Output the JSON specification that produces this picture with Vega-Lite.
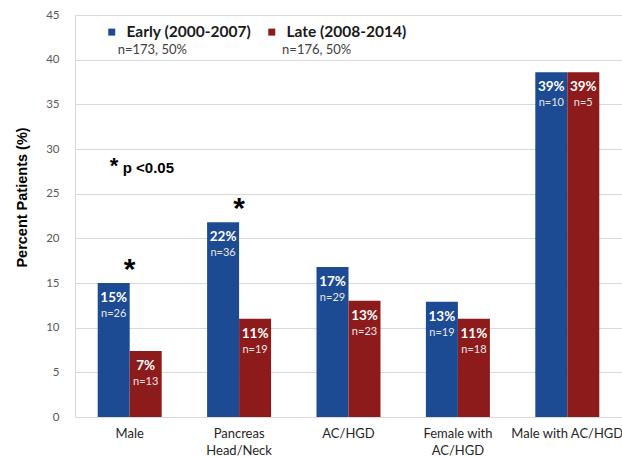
{
  "$schema": "https://vega.github.io/schema/vega-lite/v6.json",
  "width": 547,
  "height": 402,
  "autosize": "none",
  "padding": {"left": 75, "top": 15, "right": 0, "bottom": 40},
  "background": "white",
  "config": {"view": {"stroke": null}, "font": "Lato"},
  "datasets": {
    "bars": [
      {"cat": "Male", "period": "Early (2000-2007)", "value": 15.0, "pct": "15%", "n": "n=26", "sig": "*"},
      {"cat": "Male", "period": "Late (2008-2014)", "value": 7.4, "pct": "7%", "n": "n=13", "sig": ""},
      {"cat": "Pancreas Head/Neck", "period": "Early (2000-2007)", "value": 21.8, "pct": "22%", "n": "n=36", "sig": "*"},
      {"cat": "Pancreas Head/Neck", "period": "Late (2008-2014)", "value": 11.0, "pct": "11%", "n": "n=19", "sig": ""},
      {"cat": "AC/HGD", "period": "Early (2000-2007)", "value": 16.8, "pct": "17%", "n": "n=29", "sig": ""},
      {"cat": "AC/HGD", "period": "Late (2008-2014)", "value": 13.0, "pct": "13%", "n": "n=23", "sig": ""},
      {"cat": "Female with AC/HGD", "period": "Early (2000-2007)", "value": 12.9, "pct": "13%", "n": "n=19", "sig": ""},
      {"cat": "Female with AC/HGD", "period": "Late (2008-2014)", "value": 11.0, "pct": "11%", "n": "n=18", "sig": ""},
      {"cat": "Male with AC/HGD", "period": "Early (2000-2007)", "value": 38.6, "pct": "39%", "n": "n=10", "sig": ""},
      {"cat": "Male with AC/HGD", "period": "Late (2008-2014)", "value": 38.6, "pct": "39%", "n": "n=5", "sig": ""}
    ],
    "pnote": [{"cat": "Male", "star": "*", "t": "p <0.05"}],
    "legsub": [
      {"cat": "Male", "period": "Early (2000-2007)", "t": "n=173, 50%"},
      {"cat": "Pancreas Head/Neck", "period": "Late (2008-2014)", "t": "n=176, 50%"}
    ]
  },
  "layer": [
    {
      "data": {"name": "bars"},
      "mark": {"type": "bar"},
      "encoding": {
        "x": {
          "field": "cat",
          "type": "nominal",
          "sort": ["Male", "Pancreas Head/Neck", "AC/HGD", "Female with AC/HGD", "Male with AC/HGD"],
          "scale": {"paddingInner": 0.415, "paddingOuter": 0.2075},
          "axis": {
            "title": null,
            "labelAngle": 0,
            "labelFont": "Lato",
            "labelFontSize": 13,
            "labelColor": "#262626",
            "labelPadding": 10,
            "labelLineHeight": 17,
            "labelBaseline": "top",
            "ticks": false,
            "domainColor": "#d9d9d9",
            "labelExpr": "datum.value == 'Pancreas Head/Neck' ? ['Pancreas', 'Head/Neck'] : datum.value == 'Female with AC/HGD' ? ['Female with', 'AC/HGD'] : datum.value"
          }
        },
        "y": {
          "field": "value",
          "type": "quantitative",
          "scale": {"domain": [0, 45], "nice": false},
          "axis": {
            "title": "Percent Patients (%)",
            "titleFont": "Liberation Sans",
            "titleFontSize": 14.5,
            "titleFontWeight": "bold",
            "titleColor": "#000000",
            "titleY": 182,
            "titlePadding": 16,
            "values": [0, 5, 10, 15, 20, 25, 30, 35, 40, 45],
            "labelFont": "Lato",
            "labelFontSize": 11.5,
            "labelColor": "#595959",
            "labelPadding": 16,
            "ticks": false,
            "gridColor": "#d9d9d9",
            "domainColor": "#d9d9d9"
          }
        },
        "xOffset": {"field": "period", "sort": ["Early (2000-2007)", "Late (2008-2014)"], "scale": {"paddingInner": 0}},
        "color": {
          "field": "period",
          "type": "nominal",
          "scale": {"domain": ["Early (2000-2007)", "Late (2008-2014)"], "range": ["#1c4b93", "#8e1b1b"]},
          "legend": {
            "orient": "none",
            "legendX": 29,
            "legendY": 9,
            "direction": "horizontal",
            "title": null,
            "padding": 0,
            "labelFont": "Lato",
            "labelFontWeight": "bold",
            "labelFontSize": 15.5,
            "labelColor": "#1a1a1a",
            "labelOffset": 7,
            "columnPadding": 12,
            "symbolType": "square",
            "symbolSize": 49,
            "symbolStrokeWidth": 0
          }
        }
      }
    },
    {
      "data": {"name": "bars"},
      "mark": {"type": "text", "baseline": "top", "dy": 8, "font": "Lato", "fontWeight": "bold", "fontSize": 13.5, "color": "white"},
      "encoding": {
        "x": {"field": "cat", "type": "nominal", "sort": ["Male", "Pancreas Head/Neck", "AC/HGD", "Female with AC/HGD", "Male with AC/HGD"]},
        "y": {"field": "value", "type": "quantitative"},
        "xOffset": {"field": "period", "sort": ["Early (2000-2007)", "Late (2008-2014)"]},
        "text": {"field": "pct"}
      }
    },
    {
      "data": {"name": "bars"},
      "mark": {"type": "text", "baseline": "top", "dy": 25, "font": "Lato", "fontSize": 11, "color": "#e8e8e8"},
      "encoding": {
        "x": {"field": "cat", "type": "nominal", "sort": ["Male", "Pancreas Head/Neck", "AC/HGD", "Female with AC/HGD", "Male with AC/HGD"]},
        "y": {"field": "value", "type": "quantitative"},
        "xOffset": {"field": "period", "sort": ["Early (2000-2007)", "Late (2008-2014)"]},
        "text": {"field": "n"}
      }
    },
    {
      "data": {"name": "bars"},
      "transform": [{"filter": "datum.sig == '*'"}],
      "mark": {"type": "text", "baseline": "alphabetic", "dy": -4, "font": "Liberation Sans", "fontWeight": "bold", "fontSize": 30, "color": "#000000"},
      "encoding": {
        "x": {"field": "cat", "type": "nominal", "sort": ["Male", "Pancreas Head/Neck", "AC/HGD", "Female with AC/HGD", "Male with AC/HGD"]},
        "y": {"field": "value", "type": "quantitative"},
        "text": {"field": "sig"}
      }
    },
    {
      "data": {"name": "pnote"},
      "mark": {"type": "text", "align": "left", "baseline": "alphabetic", "dx": -20, "font": "Liberation Sans", "fontWeight": "bold", "fontSize": 22, "color": "#000000"},
      "encoding": {
        "x": {"field": "cat", "type": "nominal", "sort": ["Male", "Pancreas Head/Neck", "AC/HGD", "Female with AC/HGD", "Male with AC/HGD"]},
        "y": {"datum": 27.3, "type": "quantitative"},
        "text": {"field": "star"}
      }
    },
    {
      "data": {"name": "pnote"},
      "mark": {"type": "text", "align": "left", "baseline": "alphabetic", "dx": -7, "font": "Liberation Sans", "fontWeight": "bold", "fontSize": 15, "color": "#000000"},
      "encoding": {
        "x": {"field": "cat", "type": "nominal", "sort": ["Male", "Pancreas Head/Neck", "AC/HGD", "Female with AC/HGD", "Male with AC/HGD"]},
        "y": {"datum": 27.3, "type": "quantitative"},
        "text": {"field": "t"}
      }
    },
    {
      "data": {"name": "legsub"},
      "transform": [{"filter": "datum.cat == 'Male'"}],
      "mark": {"type": "text", "align": "left", "baseline": "alphabetic", "dx": -12, "font": "Lato", "fontSize": 13, "color": "#404040"},
      "encoding": {
        "x": {"field": "cat", "type": "nominal", "sort": ["Male", "Pancreas Head/Neck", "AC/HGD", "Female with AC/HGD", "Male with AC/HGD"]},
        "y": {"datum": 40.6, "type": "quantitative"},
        "text": {"field": "t"}
      }
    },
    {
      "data": {"name": "legsub"},
      "transform": [{"filter": "datum.cat != 'Male'"}],
      "mark": {"type": "text", "align": "left", "baseline": "alphabetic", "dx": 43, "font": "Lato", "fontSize": 13, "color": "#404040"},
      "encoding": {
        "x": {"field": "cat", "type": "nominal", "sort": ["Male", "Pancreas Head/Neck", "AC/HGD", "Female with AC/HGD", "Male with AC/HGD"]},
        "y": {"datum": 40.6, "type": "quantitative"},
        "text": {"field": "t"}
      }
    }
  ]
}
